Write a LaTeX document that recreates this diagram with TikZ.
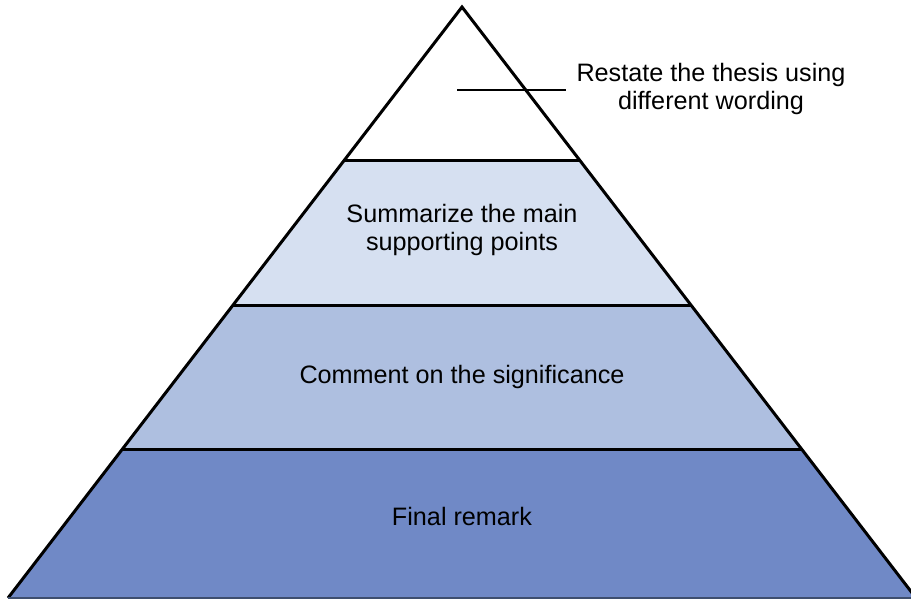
\documentclass[tikz,border=0pt]{standalone}
\usepackage{fontspec}
\setmainfont{Liberation Sans}
\definecolor{tierlight}{HTML}{D6E0F1}
\definecolor{tiermid}{HTML}{AEBFE0}
\definecolor{tierdark}{HTML}{7089C6}
\definecolor{tierbase}{HTML}{3E4E6E}
\begin{document}
\begin{tikzpicture}[x=0.5pt,y=-0.5pt,
            edge/.style={line width=1.5pt,line join=miter},
            tiertext/.style={font=\fontsize{12.6}{14}\selectfont,align=center}]
  \useasboundingbox (0,0) rectangle (911,600);
  \clip (0,0) rectangle (911,600);
  \coordinate (apex) at (462,7);
  \coordinate (bl) at (8,598);
  \coordinate (br) at (916,598);
  \coordinate (l1) at (344.5,160); \coordinate (r1) at (579.5,160);
  \coordinate (l2) at (233,305);   \coordinate (r2) at (691,305);
  \coordinate (l3) at (122.5,449); \coordinate (r3) at (801.5,449);
  % bands
  \fill[tierlight] (l1) -- (r1) -- (r2) -- (l2) -- cycle;
  \fill[tiermid] (l2) -- (r2) -- (r3) -- (l3) -- cycle;
  \fill[tierdark] (l3) -- (r3) -- (br) -- (bl) -- cycle;
  \draw[edge] (l1) -- (r1);
  \draw[edge] (l2) -- (r2);
  \draw[edge] (l3) -- (r3);
  \draw[edge] (bl) -- (apex) -- (br);
  \draw[tierbase,line width=1pt] (bl) -- (br);
  % texts
  \node[tiertext] (summary) at (462,230) {Summarize the main\\supporting points};
  \node[tiertext] (comment) at (462,377) {Comment on the significance};
  \node[tiertext] (final) at (462,516) {Final remark};
  \node[tiertext,inner sep=5pt] (restate) at (711,89) {Restate the thesis using\\different wording};
  \coordinate (lead) at (457,90);
  \draw[line width=1.2pt] (lead) -- (lead -| restate.west);
\end{tikzpicture}
\end{document}
